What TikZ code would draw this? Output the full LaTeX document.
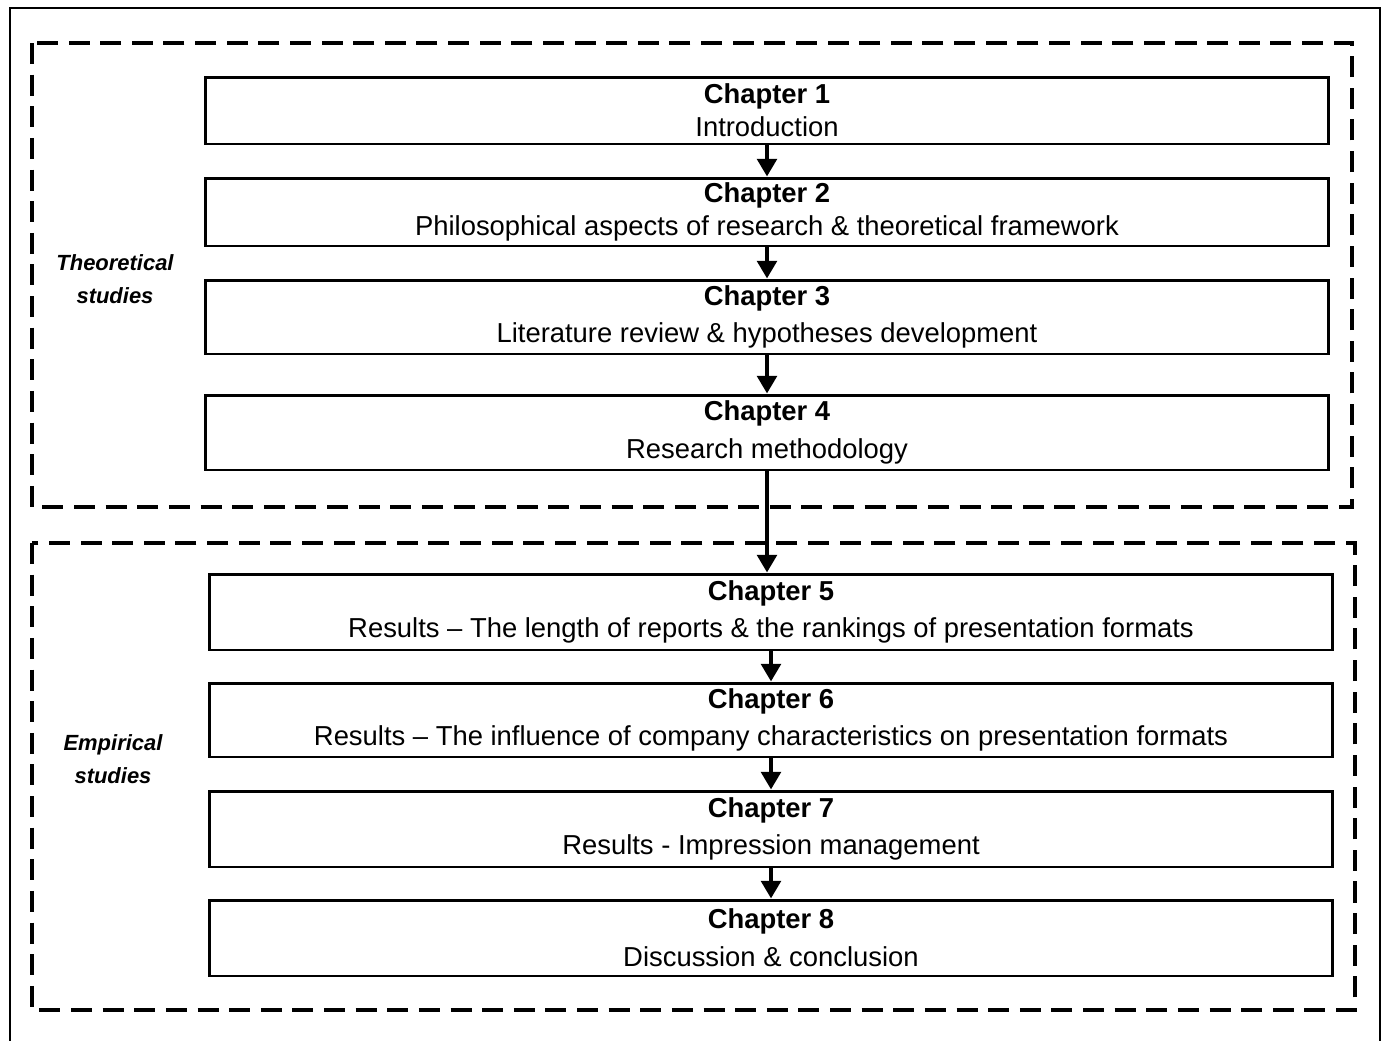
\documentclass[tikz,border=0pt]{standalone}
\usepackage{fontspec}
\setmainfont{Liberation Sans}
\usetikzlibrary{arrows.meta}
\usetikzlibrary{positioning}
\pgfdeclarelayer{nodelayer}
\pgfdeclarelayer{edgelayer}
\pgfsetlayers{edgelayer,nodelayer,main}
\tikzstyle{none}=[inner sep=0pt]
\tikzset{chap/.style={draw=black, line width=1.7pt, minimum width=22.46cm, align=center, inner sep=0pt,
font=\fontsize{15.6}{19}\selectfont}}
\tikzset{part/.style={draw=black, line width=2.8pt, dash pattern=on 12pt off 6pt}}
\tikzset{arr/.style={line width=2.4pt, -{Triangle[width=11pt, length=10pt]}}}
\tikzset{side/.style={inner sep=0pt, align=center, font=\fontsize{12.5}{19}\selectfont\bfseries\itshape}}

\begin{document}
\begin{tikzpicture}[x=0.02cm, y=-0.02cm]
        \useasboundingbox (0, 0) rectangle (1384, 1041);
        \begin{pgfonlayer}{nodelayer}
            \node [chap, minimum height=1.34cm] (1) at (767, 110.5) {\textbf{Chapter 1}\\Introduction};
            \node [chap, minimum height=1.36cm] (2) at (767, 212) {\textbf{Chapter 2}\\Philosophical aspects of research \& theoretical framework};
            \node [chap, minimum height=1.48cm, font=\fontsize{15.6}{21.5}\selectfont] (3) at (767, 317) {\textbf{Chapter 3}\\Literature review \& hypotheses development};
            \node [chap, minimum height=1.5cm, font=\fontsize{15.6}{21.5}\selectfont] (4) at (767, 432.5) {\textbf{Chapter 4}\\Research methodology};
            \node [chap, minimum height=1.52cm, font=\fontsize{15.6}{21.5}\selectfont] (5) at (771, 612) {\textbf{Chapter 5}\\Results -- The length of reports \& the rankings of presentation formats};
            \node [chap, minimum height=1.48cm, font=\fontsize{15.6}{21.5}\selectfont] (6) at (771, 720) {\textbf{Chapter 6}\\Results -- The influence of company characteristics on presentation formats};
            \node [chap, minimum height=1.52cm, font=\fontsize{15.6}{21.5}\selectfont] (7) at (771, 829) {\textbf{Chapter 7}\\Results - Impression management};
            \node [chap, minimum height=1.52cm, font=\fontsize{15.6}{21.5}\selectfont] (8) at (771, 938) {\textbf{Chapter 8}\\Discussion \& conclusion};
            \node [side] (9) at (115, 279) {Theoretical\\studies};
            \node [side] (10) at (113, 759) {Empirical\\studies};
        \end{pgfonlayer}
        \begin{pgfonlayer}{edgelayer}
            % frame of the page and the two parts
            \draw [line width=1.1pt] (10, 1041) -- (10, 8) -- (1380, 8) -- (1380, 1041);
            \draw [part] (32, 43) rectangle (1352, 507);
            \draw [part] (32, 543) rectangle (1355, 1010);
            \draw [arr] (1) to (2);
            \draw [arr] (2) to (3);
            \draw [arr] (3) to (4);
            \draw [arr] (4.south) to (4.south |- 5.north);
            \draw [arr] (5) to (6);
            \draw [arr] (6) to (7);
            \draw [arr] (7) to (8);
        \end{pgfonlayer}
    \end{tikzpicture}
\end{document}
